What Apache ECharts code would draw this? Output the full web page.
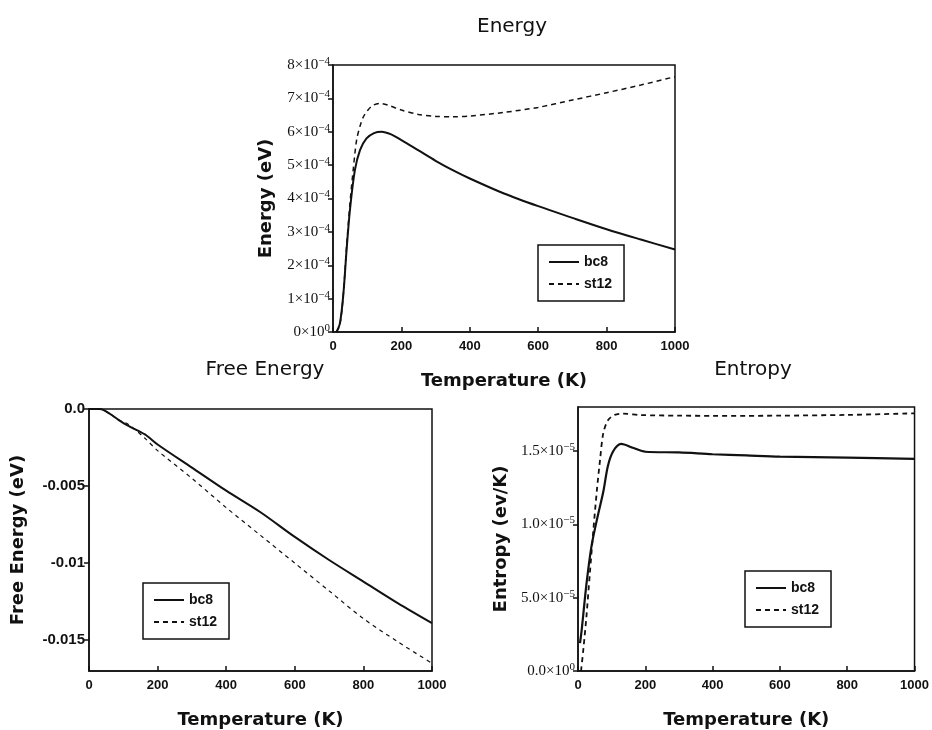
<!DOCTYPE html>
<html>
<head>
<meta charset="utf-8">
<script src="https://cdn.jsdelivr.net/npm/echarts@6/dist/echarts.min.js"></script>
<style>
  html, body { margin: 0; padding: 0; background: #fff; }
  #chart { width: 932px; height: 730px; }
</style>
</head>
<body>
<div id="chart"></div>
<script>
// Energy panel (eV)
const energyBc8Temps = [10, 20, 30, 40, 50, 64, 79, 98, 120, 142, 170, 200, 250, 300, 350, 400, 500, 600, 700, 800, 900, 1000];
const energyBc8 = [0, 0.25e-4, 1.1e-4, 2.5e-4, 3.7e-4, 4.85e-4, 5.45e-4, 5.8e-4, 5.96e-4, 6.0e-4, 5.92e-4, 5.75e-4, 5.44e-4, 5.13e-4, 4.85e-4, 4.6e-4, 4.15e-4, 3.77e-4, 3.42e-4, 3.08e-4, 2.77e-4, 2.47e-4];
const energySt12Temps = [10, 20, 30, 40, 50, 59, 69, 80, 89, 100, 115, 137, 160, 200, 250, 300, 350, 400, 500, 600, 700, 800, 900, 1000];
const energySt12 = [0, 0.2e-4, 1.1e-4, 2.6e-4, 3.9e-4, 4.85e-4, 5.75e-4, 6.2e-4, 6.45e-4, 6.62e-4, 6.78e-4, 6.85e-4, 6.8e-4, 6.65e-4, 6.52e-4, 6.46e-4, 6.45e-4, 6.47e-4, 6.58e-4, 6.73e-4, 6.95e-4, 7.17e-4, 7.4e-4, 7.65e-4];
const energyTicks = [0, 1e-4, 2e-4, 3e-4, 4e-4, 5e-4, 6e-4, 7e-4, 8e-4];
const energyTickLabels = [['0', '0'], ['1', '−4'], ['2', '−4'], ['3', '−4'], ['4', '−4'], ['5', '−4'], ['6', '−4'], ['7', '−4'], ['8', '−4']];

// Free energy panel (eV)
const freeTemps = [0, 20, 32, 60, 86, 115, 163, 200, 300, 400, 500, 600, 700, 800, 900, 1000];
const freeBc8 = [0, 0, 0, -0.0003, -0.0007, -0.0011, -0.00165, -0.0023, -0.0038, -0.0053, -0.0067, -0.0083, -0.0098, -0.0112, -0.0126, -0.0139];
const freeSt12 = [0, 0, 0, -0.0003, -0.0007, -0.001, -0.0019, -0.0027, -0.0045, -0.0064, -0.0082, -0.01, -0.0118, -0.0136, -0.0151, -0.0165];
const freeTicks = [0, -0.005, -0.01, -0.015];
const freeTickLabels = ['0.0', '-0.005', '-0.01', '-0.015'];

// Entropy panel (eV/K)
const entropyBc8Temps = [6, 11, 25, 40, 58, 75, 89, 105, 128, 165, 200, 300, 400, 500, 600, 800, 1000];
const entropyBc8 = [0.19e-5, 0.28e-5, 0.59e-5, 0.85e-5, 1.05e-5, 1.22e-5, 1.4e-5, 1.5e-5, 1.548e-5, 1.52e-5, 1.495e-5, 1.49e-5, 1.478e-5, 1.47e-5, 1.462e-5, 1.455e-5, 1.446e-5];
const entropySt12Temps = [9, 16, 25, 35, 46, 56, 66, 75, 89, 109, 133, 187, 300, 400, 500, 600, 800, 1000];
const entropySt12 = [0, 0.15e-5, 0.37e-5, 0.66e-5, 0.97e-5, 1.23e-5, 1.45e-5, 1.62e-5, 1.71e-5, 1.746e-5, 1.755e-5, 1.745e-5, 1.741e-5, 1.74e-5, 1.74e-5, 1.741e-5, 1.746e-5, 1.757e-5];
const entropyTicks = [0, 0.5e-5, 1.0e-5, 1.5e-5];
const entropyTickLabels = [['0.0', '0'], ['5.0', '−5'], ['1.0', '−5'], ['1.5', '−5']];

function pairs(xs, ys) {
  return xs.map((x, i) => [x, ys[i]]);
}

function nearestIndex(ticks, v) {
  let best = 0;
  for (let i = 1; i < ticks.length; i++) {
    if (Math.abs(ticks[i] - v) < Math.abs(ticks[best] - v)) best = i;
  }
  return best;
}

const sansFont = 'DejaVu Sans';
const serifRich = {
  m: { fontFamily: 'Liberation Serif', fontSize: 15, color: '#111', lineHeight: 19 },
  s: { fontFamily: 'Liberation Serif', fontSize: 11, color: '#111', verticalAlign: 'top', lineHeight: 11 }
};
const nameStyle = { fontFamily: sansFont, fontSize: 18, fontWeight: 'bold', color: '#111' };

function xAxisFor(gridIndex) {
  return {
    type: 'value', gridIndex: gridIndex, min: 0, max: 1000, interval: 200,
    name: 'Temperature (K)', nameLocation: 'middle', nameGap: 40,
    nameTextStyle: nameStyle,
    axisLine: { onZero: false, lineStyle: { color: '#111', width: 1.5 } },
    axisTick: { inside: true, length: 5, lineStyle: { color: '#111', width: 1.5 } },
    axisLabel: {
      fontFamily: 'Liberation Sans', fontWeight: 'bold', fontSize: 13, color: '#111', margin: 8,
      formatter: function (v) { return String(v); }
    },
    splitLine: { show: false }
  };
}

const chart = echarts.init(document.getElementById('chart'));

const option = {
  backgroundColor: '#fff',
  animation: false,
  title: [
    { text: 'Energy', left: 507, top: 12, textAlign: 'center', textStyle: { fontFamily: sansFont, fontSize: 20, fontWeight: 'normal', color: '#111' } },
    { text: 'Free Energy', left: 260, top: 355, textAlign: 'center', textStyle: { fontFamily: sansFont, fontSize: 20, fontWeight: 'normal', color: '#111' } },
    { text: 'Entropy', left: 748, top: 355, textAlign: 'center', textStyle: { fontFamily: sansFont, fontSize: 20, fontWeight: 'normal', color: '#111' } }
  ],
  grid: [
    { left: 333, top: 65, width: 342, height: 267, show: true, borderColor: '#111', borderWidth: 1.5 },
    { left: 89, top: 409, width: 343, height: 267, show: true, borderColor: '#111', borderWidth: 1.5 },
    { left: 578, top: 407, width: 340, height: 268, show: true, borderColor: '#111', borderWidth: 1.5 }
  ],
  xAxis: [xAxisFor(0), xAxisFor(1), xAxisFor(2)],
  yAxis: [
    {
      type: 'value', gridIndex: 0, min: 0, max: 8e-4, interval: 1e-4,
      name: 'Energy (eV)', nameLocation: 'middle', nameGap: 58,
      nameTextStyle: nameStyle,
      axisLine: { lineStyle: { color: '#111', width: 1.5 } },
      axisTick: { length: 5, lineStyle: { color: '#111', width: 1.5 } },
      axisLabel: {
        margin: 3, rich: serifRich,
        formatter: function (v) {
          const l = energyTickLabels[nearestIndex(energyTicks, v)];
          return '{m|' + l[0] + '×10}{s|' + l[1] + '}';
        }
      },
      splitLine: { show: false }
    },
    {
      type: 'value', gridIndex: 1, min: -0.017, max: 0,
      name: 'Free Energy (eV)', nameLocation: 'middle', nameGap: 62,
      nameTextStyle: nameStyle,
      axisLine: { lineStyle: { color: '#111', width: 1.5 } },
      axisTick: { length: 5, customValues: freeTicks, lineStyle: { color: '#111', width: 1.5 } },
      axisLabel: {
        customValues: freeTicks, margin: 4,
        fontFamily: 'Liberation Sans', fontWeight: 'bold', fontSize: 15, color: '#111',
        formatter: function (v) { return freeTickLabels[nearestIndex(freeTicks, v)]; }
      },
      splitLine: { show: false }
    },
    {
      type: 'value', gridIndex: 2, min: 0, max: 1.8e-5,
      name: 'Entropy (ev/K)', nameLocation: 'middle', nameGap: 68,
      nameTextStyle: nameStyle,
      axisLine: { lineStyle: { color: '#111', width: 1.5 } },
      axisTick: { length: 5, customValues: entropyTicks, lineStyle: { color: '#111', width: 1.5 } },
      axisLabel: {
        customValues: entropyTicks, margin: 3, rich: serifRich,
        formatter: function (v) {
          const l = entropyTickLabels[nearestIndex(entropyTicks, v)];
          return '{m|' + l[0] + '×10}{s|' + l[1] + '}';
        }
      },
      splitLine: { show: false }
    }
  ],
  legend: [
    { left: 538, top: 245 },
    { left: 143, top: 583 },
    { left: 745, top: 571 }
  ].map(p => ({
    left: p.left, top: p.top, orient: 'vertical',
    data: ['bc8', 'st12'],
    padding: [10, 12, 10, 10], itemGap: 8, itemWidth: 30, itemHeight: 10,
    itemStyle: { opacity: 0 },
    borderColor: '#111', borderWidth: 1.5, selectedMode: false,
    textStyle: { fontFamily: 'Liberation Sans', fontWeight: 'bold', fontSize: 14, color: '#111' }
  })),
  series: [
    { name: 'bc8', type: 'line', xAxisIndex: 0, yAxisIndex: 0, symbol: 'none', smooth: 0.3,
      lineStyle: { color: '#111', width: 2 }, itemStyle: { color: '#111' }, data: pairs(energyBc8Temps, energyBc8) },
    { name: 'st12', type: 'line', xAxisIndex: 0, yAxisIndex: 0, symbol: 'none', smooth: 0.3,
      lineStyle: { color: '#111', width: 1.5, type: [5, 4] }, itemStyle: { color: '#111' }, data: pairs(energySt12Temps, energySt12) },
    { name: 'bc8', type: 'line', xAxisIndex: 1, yAxisIndex: 1, symbol: 'none', smooth: 0.3,
      lineStyle: { color: '#111', width: 2 }, itemStyle: { color: '#111' }, data: pairs(freeTemps, freeBc8) },
    { name: 'st12', type: 'line', xAxisIndex: 1, yAxisIndex: 1, symbol: 'none', smooth: 0.3,
      lineStyle: { color: '#111', width: 1.2, type: [4, 4] }, itemStyle: { color: '#111' }, data: pairs(freeTemps, freeSt12) },
    { name: 'bc8', type: 'line', xAxisIndex: 2, yAxisIndex: 2, symbol: 'none', smooth: 0.3,
      lineStyle: { color: '#111', width: 2.2 }, itemStyle: { color: '#111' }, data: pairs(entropyBc8Temps, entropyBc8) },
    { name: 'st12', type: 'line', xAxisIndex: 2, yAxisIndex: 2, symbol: 'none', smooth: 0.3,
      lineStyle: { color: '#111', width: 1.8, type: [5, 4] }, itemStyle: { color: '#111' }, data: pairs(entropySt12Temps, entropySt12) }
  ]
};

chart.setOption(option);
window.addEventListener('resize', chart.resize);
</script>
</body>
</html>
